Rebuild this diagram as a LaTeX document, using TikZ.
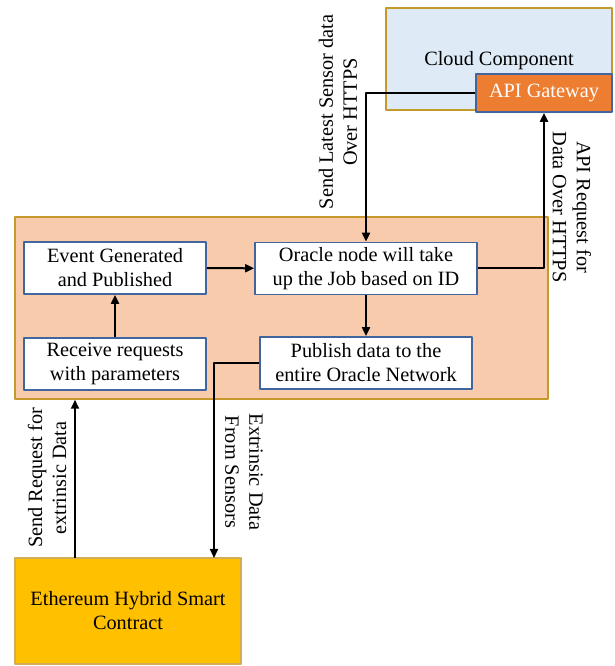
\documentclass[tikz,border=0pt]{standalone}
\usepackage{fontspec}
\setmainfont{Liberation Serif}
\usetikzlibrary{arrows.meta}
\definecolor{gold}{HTML}{C59A2A}
\definecolor{boxblue}{HTML}{41659F}
\definecolor{cloudfill}{HTML}{DEEBF7}
\definecolor{peach}{HTML}{F8CBAD}
\definecolor{apiorange}{HTML}{ED7D31}
\definecolor{ethgold}{HTML}{FFC000}
\begin{document}
\begin{tikzpicture}[x=1pt, y=1pt, line join=round,
		every node/.style={font=\fontsize{20.3}{24}\selectfont, align=center},
		stepbox/.style={draw=boxblue, line width=1.8pt, fill=white, minimum width=#1, minimum height=52pt, inner sep=0pt},
		link/.style={line width=2pt, -{Triangle[length=9pt, width=8pt]}}]
			\useasboundingbox (0,0) rectangle (614,666);
			% outer blocks
			\node[draw=gold, line width=1.5pt, fill=cloudfill, minimum width=226pt, minimum height=102pt] (Cloud) at (499,607) {};
			\node at (499,605) {Cloud Component};
			\node[draw=boxblue, line width=1.8pt, fill=apiorange, text=white, minimum width=136pt, minimum height=38pt, inner sep=0pt] (Api) at (544,573) {API Gateway};
			\node[draw=gold, line width=1.5pt, fill=peach, minimum width=533pt, minimum height=182pt] (Oracle) at (281.5,358) {};
			\node[draw=gold!80, line width=1.5pt, fill=ethgold, minimum width=226pt, minimum height=106pt] (Eth) at (128,55) {Ethereum Hybrid Smart\\Contract};
			% inner steps
			\node[stepbox=182pt] (Event) at (115,398) {Event Generated\\and Published};
			\node[stepbox=182pt] (Receive) at (115,302) {Receive requests\\with parameters};
			\node[stepbox=222pt] (Job) at (366,397.5) {Oracle node will take\\up the Job based on ID};
			\node[stepbox=212pt] (Publish) at (366,303) {Publish data to the\\entire Oracle Network};
			\coordinate (ReqOut) at (75,108);
			\coordinate (DataIn) at (214,108);
			% connectors
			\draw[link] (Receive) -- (Event);
			\draw[link] (Event) -- (Job);
			\draw[link] (Job) -- (Publish);
			\draw[link] (Job.east) -| (Api.south);
			\draw[link] (Api.west) -| (Job.north);
			\draw[link] (Publish.west) -| (DataIn);
			\draw[link] (ReqOut) -- (ReqOut |- Oracle.south);
			% labels
			\node[rotate=90] (LatestLbl) at (338,554) {Send Latest Sensor data\\Over HTTPS};
			\node[rotate=-90] (ApiLbl) at (572,459) {API Request for\\Data Over HTTPS};
			\node[rotate=90] (ReqLbl) at (47,188) {Send Request for\\extrinsic Data};
			\node[rotate=-90] (ExtLbl) at (244,194) {Extrinsic Data\\From Sensors};
		\end{tikzpicture}
\end{document}
